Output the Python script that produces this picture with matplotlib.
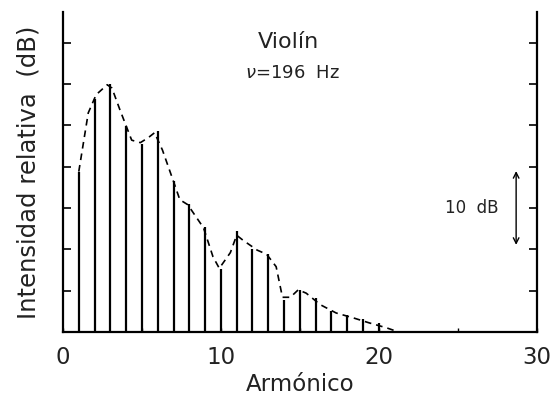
import matplotlib
matplotlib.use("Agg")
import matplotlib.pyplot as plt

# Espectro del violin, nu = 196 Hz
armonico = list(range(1, 21))
intensidad = [19.4, 28.2, 30.0, 24.9, 22.7, 24.3, 18.3, 15.5, 12.7, 7.6,
              12.2, 10.0, 9.4, 3.9, 5.1, 4.1, 2.6, 2.1, 1.6, 1.1]

# envolvente (linea de trazos)
env_x = [1.0, 1.6, 2.1, 2.8, 3.1, 3.6, 4.35, 4.9, 5.4, 5.8, 6.3, 7.0, 7.4, 7.9,
         8.9, 9.5, 9.9, 10.6, 11.0, 11.4, 12.3, 12.9, 13.5, 13.9, 14.4, 14.9,
         15.4, 16.3, 17.3, 18.4, 19.4, 20.5, 21.1]
env_y = [19.4, 26.5, 28.7, 29.9, 29.5, 26.9, 23.2, 22.9, 23.5, 24.1, 22.0, 18.2, 16.0, 15.4,
         12.6, 9.1, 7.7, 9.6, 11.7, 11.1, 9.9, 9.4, 7.9, 4.2, 4.2, 5.1,
         4.7, 3.3, 2.3, 1.7, 1.1, 0.5, 0.1]

plt.rcParams['font.family'] = ['DejaVu Sans']

fig = plt.figure(figsize=(5.54, 4.0), dpi=100)
ax = fig.add_axes([0.1137, 0.17, 0.855, 0.80])

ax.vlines(armonico, 0, intensidad, colors="black", linewidth=1.6)
ax.plot(env_x, env_y, color="black", linestyle=(0, (4, 3)), linewidth=1.2)

ax.set_xlim(0, 30)
ax.set_ylim(0, 38.7)
ax.set_xticks([0, 10, 20, 30])
ax.set_xticks([5, 15, 25], minor=True)
ax.set_yticks([5, 10, 15, 20, 25, 30, 35])
ax.set_yticklabels([])
ax.tick_params(axis="y", direction="in", length=6, width=1.2, left=True, right=True)
ax.tick_params(axis="x", which="both", direction="in", length=3, width=1.0, labelsize=16.5, pad=10,
               labelcolor="#222222")
for s in ["left", "right", "bottom"]:
    ax.spines[s].set_linewidth(1.6)
ax.spines["top"].set_visible(False)

ax.set_xlabel("Armónico", fontsize=16.5, labelpad=3, color="#222222")
ax.set_ylabel("Intensidad relativa  (dB)", fontsize=17.5, labelpad=13, color="#222222")

ax.text(0.475, 0.905, "Violín", transform=ax.transAxes, ha="center", va="center",
        fontsize=16, color="#222222")
ax.text(0.384, 0.81, "$\\nu$=196  Hz", transform=ax.transAxes, ha="left", va="center",
        fontsize=13, color="#222222")
ax.text(25.9, 15.0, "10  dB", ha="center", va="center", fontsize=12, color="#222222")
ax.annotate("", xy=(28.7, 19.8), xytext=(28.7, 10.2),
            arrowprops=dict(arrowstyle="<->", color="black", lw=1.0))

fig.savefig("out.png", dpi=100)
